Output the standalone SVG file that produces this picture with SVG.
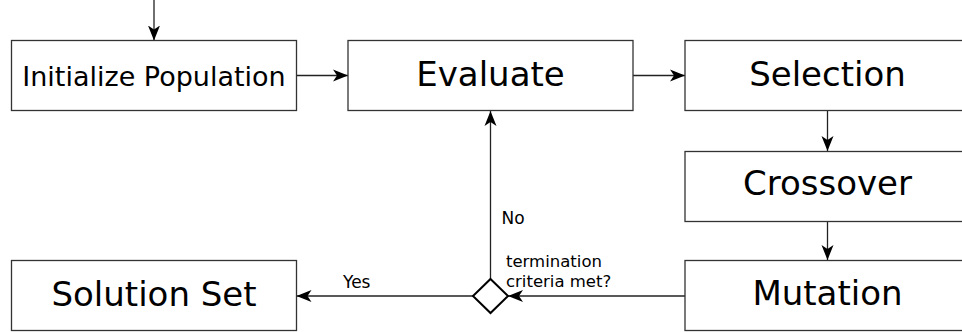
<svg xmlns="http://www.w3.org/2000/svg" width="962" height="332" viewBox="0 0 962 332">
<style>
.box{fill:#fff;stroke:#333;stroke-width:1.3}
.big{font-family:"DejaVu Sans",sans-serif;font-size:34px;text-anchor:middle;fill:#000}
.lbl{font-family:"DejaVu Sans",sans-serif;font-size:17px;fill:#000}
.edge{fill:none;stroke:#222;stroke-width:1.3;marker-end:url(#arr)}
</style>
<defs>
<marker id="arr" markerUnits="userSpaceOnUse" markerWidth="16" markerHeight="14" refX="15" refY="7" orient="auto">
<path d="M0,1 L15,7 L0,13 L4,7 z" fill="#000"/>
</marker>
</defs>
<rect width="962" height="332" fill="#fff"/>
<g id="connectors">
<line class="edge" x1="154" y1="0" x2="154" y2="40.5"/>
<line class="edge" x1="296.5" y1="75.5" x2="348" y2="75.5"/>
<line class="edge" x1="633" y1="75.5" x2="685" y2="75.5"/>
<line class="edge" x1="827.5" y1="110.5" x2="827.5" y2="151"/>
<line class="edge" x1="827.5" y1="221.5" x2="827.5" y2="260"/>
<line class="edge" x1="685" y1="296" x2="508" y2="296"/>
<line class="edge" x1="473" y1="296" x2="296.5" y2="296"/>
<line class="edge" x1="490.5" y1="279" x2="490.5" y2="111"/>
<text class="lbl" x="501.5" y="224">No</text>
<text class="lbl" x="343" y="288">Yes</text>
</g>
<g id="init">
<rect class="box" x="11.5" y="40.5" width="285" height="70"/>
<text class="big" x="154" y="86" style="font-size:27px">Initialize Population</text>
</g>
<g id="evaluate">
<rect class="box" x="348" y="40.5" width="285" height="70"/>
<text class="big" x="490.5" y="86">Evaluate</text>
</g>
<g id="selection">
<rect class="box" x="685" y="40.5" width="285" height="70"/>
<text class="big" x="827.5" y="86">Selection</text>
</g>
<g id="crossover">
<rect class="box" x="685" y="151.5" width="285" height="70"/>
<text class="big" x="827.5" y="195">Crossover</text>
</g>
<g id="mutation">
<rect class="box" x="685" y="260.5" width="285" height="70"/>
<text class="big" x="827.5" y="305">Mutation</text>
</g>
<g id="solution">
<rect class="box" x="11.5" y="260.5" width="285" height="70"/>
<text class="big" x="154" y="306">Solution Set</text>
</g>
<g id="decision">
<path d="M490.5,279 L508,296 L490.5,313 L473,296 Z" fill="#fff" stroke="#000" stroke-width="2"/>
<text class="lbl" x="506" y="267" style="font-size:16.5px">termination</text>
<text class="lbl" x="506" y="286.5" style="font-size:16.5px">criteria met?</text>
</g>
</svg>
